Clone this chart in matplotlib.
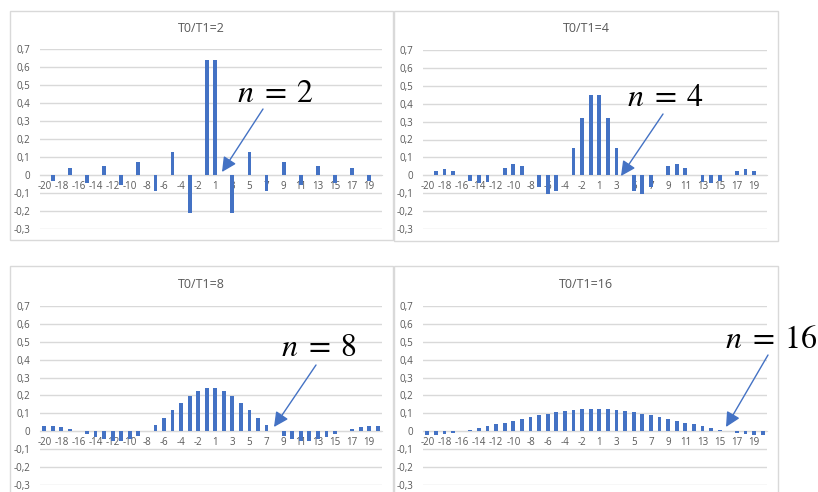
import matplotlib
matplotlib.use("Agg")
import matplotlib.pyplot as plt
from matplotlib.patches import Rectangle, FancyArrowPatch

# harmonic index k = -20..-1, 1..20
harmonics = list(range(-20, 0)) + list(range(1, 21))

coef_n2 = [0, -0.034, 0, 0.037, 0, -0.042, 0, 0.049, 0, -0.058,
           0, 0.071, 0, -0.091, 0, 0.127, 0, -0.212, 0, 0.637,
           0.637, 0, -0.212, 0, 0.127, 0, -0.091, 0, 0.071, 0,
           -0.058, 0, 0.049, 0, -0.042, 0, 0.037, 0, -0.034, 0]
coef_n4 = [0, 0.024, 0.035, 0.026, 0, -0.030, -0.045, -0.035, 0, 0.041,
           0.064, 0.050, 0, -0.064, -0.106, -0.090, 0, 0.150, 0.318, 0.450,
           0.450, 0.318, 0.150, 0, -0.090, -0.106, -0.064, 0, 0.050, 0.064,
           0.041, 0, -0.035, -0.045, -0.030, 0, 0.026, 0.035, 0.024, 0]
coef_n8 = [0.032, 0.031, 0.025, 0.014, 0, -0.016, -0.032, -0.045, -0.053, -0.053,
           -0.045, -0.027, 0, 0.035, 0.075, 0.118, 0.159, 0.196, 0.225, 0.244,
           0.244, 0.225, 0.196, 0.159, 0.118, 0.075, 0.035, 0, -0.027, -0.045,
           -0.053, -0.053, -0.045, -0.032, -0.016, 0, 0.014, 0.025, 0.031, 0.032]
coef_n16 = [-0.023, -0.019, -0.014, -0.007, 0, 0.008, 0.017, 0.027, 0.038, 0.048,
            0.059, 0.069, 0.080, 0.089, 0.098, 0.106, 0.113, 0.118, 0.122, 0.124,
            0.124, 0.122, 0.118, 0.113, 0.106, 0.098, 0.089, 0.080, 0.069, 0.059,
            0.048, 0.038, 0.027, 0.017, 0.008, 0, -0.007, -0.014, -0.019, -0.023]

titles = ["T0/T1=2", "T0/T1=4", "T0/T1=8", "T0/T1=16"]
labels_n = [r"$n\;=\;2$", r"$n\;=\;4$", r"$n\;=\;8$", r"$n\;=\;16$"]
y_ticks = [-0.3, -0.2, -0.1, 0, 0.1, 0.2, 0.3, 0.4, 0.5, 0.6, 0.7]
y_tick_labels = ["-0,3", "-0,2", "-0,1", "0", "0,1", "0,2", "0,3", "0,4", "0,5", "0,6", "0,7"]

W, H = 818, 492
BLUE = "#4472C4"
GRID = "#D9D9D9"
TXT = "#595959"

plt.rcParams["font.family"] = ["Open Sans", "DejaVu Sans"]
plt.rcParams["mathtext.fontset"] = "stix"

fig = plt.figure(figsize=(W / 100, H / 100), dpi=100)
fig.patch.set_facecolor("white")

# panel layout in pixels (top-left origin): chart frame and plot area
panels = [
    dict(frame=(10, 11, 393, 240), plot=(40, 49, 382, 229), title_y=28),
    dict(frame=(394, 11, 778, 241), plot=(423, 50, 767, 229), title_y=28),
    dict(frame=(10, 266, 393, 498), plot=(40, 306, 382, 485), title_y=285),
    dict(frame=(394, 266, 778, 498), plot=(423, 306, 767, 485), title_y=285),
]
series = [coef_n2, coef_n4, coef_n8, coef_n16]

# arrow annotations: text centre, arrow start, arrow tip (pixels, top-left origin)
notes = [
    ((276, 93), (263, 109), (222, 172)),
    ((666, 98), (663, 114), (621, 176)),
    ((319, 347), (316, 365), (274, 427)),
    ((771, 340), (768, 355), (726, 427)),
]

x = list(range(len(harmonics)))
for p, vals, title, lab, note in zip(panels, series, titles, labels_n, notes):
    fx0, fy0, fx1, fy1 = p["frame"]
    fig.add_artist(Rectangle((fx0 / W, 1 - fy1 / H), (fx1 - fx0) / W, (fy1 - fy0) / H,
                             transform=fig.transFigure, fill=False,
                             edgecolor=GRID, lw=1))
    px0, py0, px1, py1 = p["plot"]
    ax = fig.add_axes([px0 / W, 1 - py1 / H, (px1 - px0) / W, (py1 - py0) / H])
    ax.bar(x, vals, width=0.45, color=BLUE, zorder=3)
    ax.set_xlim(-0.5, len(harmonics) - 0.5)
    ax.set_ylim(-0.3, 0.7)
    ax.set_yticks(y_ticks)
    ax.set_yticklabels(y_tick_labels)
    ax.yaxis.grid(True, color=GRID, lw=1, zorder=0)
    ax.set_axisbelow(True)
    for s in ["top", "right", "left"]:
        ax.spines[s].set_visible(False)
    ax.spines["bottom"].set_position(("data", 0))
    ax.spines["bottom"].set_color(GRID)
    ax.set_xticks(x[::2])
    ax.set_xticklabels([str(k) for k in harmonics[::2]])
    ax.tick_params(axis="x", length=0, pad=4, labelsize=7, labelcolor=TXT)
    ax.tick_params(axis="y", length=0, pad=7, labelsize=7, labelcolor=TXT)
    ax.set_facecolor("none")

    fig.text((fx0 + fx1) / 2 / W, 1 - p["title_y"] / H, title,
             ha="center", va="center", fontsize=9, color=TXT)

    (tx, ty), (sx, sy), (ex, ey) = note
    fig.text(tx / W, 1 - ty / H, lab, ha="center", va="center",
             fontsize=23, color="black")
    fig.add_artist(FancyArrowPatch(
        (sx / W, 1 - sy / H), (ex / W, 1 - ey / H),
        transform=fig.transFigure, arrowstyle="-|>", mutation_scale=22,
        color=BLUE, lw=1, shrinkA=0, shrinkB=0))

fig.savefig("out.png", dpi=100, facecolor="white")
